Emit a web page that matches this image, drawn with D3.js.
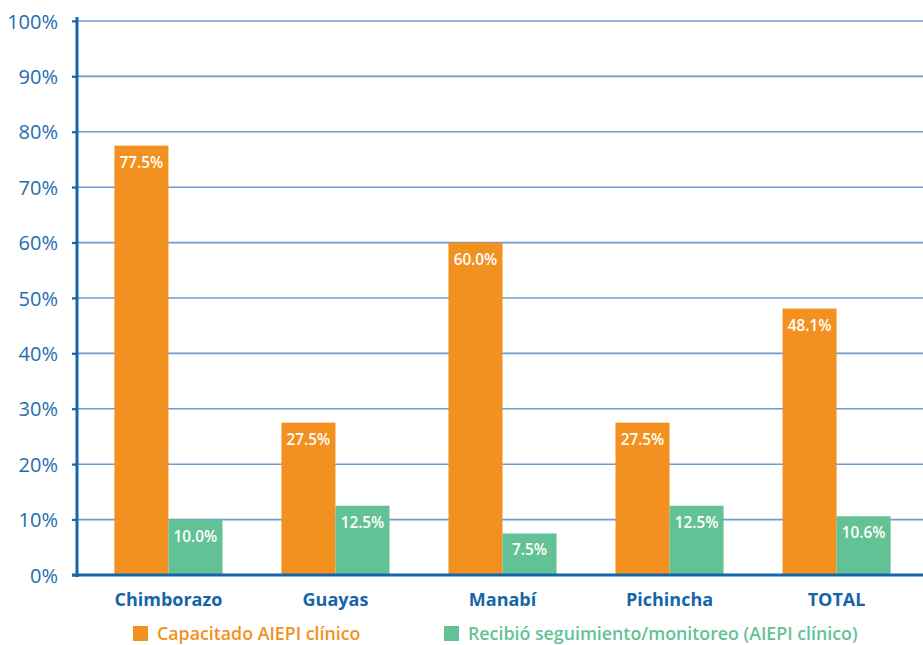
<!DOCTYPE html>
<html><head><meta charset="utf-8">
<script src="https://cdn.jsdelivr.net/npm/d3@7"></script>
<style>body{margin:0;background:#fff}svg{display:block}</style>
</head><body>
<svg id="c" width="923" height="645"></svg>
<script>
const categories = ["Chimborazo","Guayas","Manabí","Pichincha","TOTAL"];
const seriesNames = ["Capacitado AIEPI clínico","Recibió seguimiento/monitoreo (AIEPI clínico)"];
const capacitado = [77.5,27.5,60.0,27.5,48.1];
const seguimiento = [10.0,12.5,7.5,12.5,10.6];
const yTicks = [0,10,20,30,40,50,60,70,80,90,100];
const colors = ["#F39120","#63C295"];
const textBlue = "#1F6DB1";
const font = "'Open Sans', sans-serif";

const svg = d3.select("#c");
const y = d3.scaleLinear().domain([0,100]).range([575,21]);
const x = d3.scaleBand().domain(categories).range([85,920]).paddingInner(0.353).paddingOuter(0.176);
const xs = d3.scaleBand().domain([0,1]).range([0,x.bandwidth()]);

// gridlines
svg.append("g").selectAll("line").data(yTicks.filter(d=>d>0)).join("line")
  .attr("x1",72).attr("x2",923).attr("y1",d=>y(d)).attr("y2",d=>y(d))
  .attr("stroke","#6E9BD2").attr("stroke-width",1.6);

// bars
const series = [capacitado, seguimiento];
const g = svg.append("g");
series.forEach((vals,si)=>{
  g.selectAll(null).data(categories).join("rect")
    .attr("x",c=>x(c)+xs(si)).attr("width",xs.bandwidth())
    .attr("y",(c,i)=>y(vals[i])).attr("height",(c,i)=>y(0)-y(vals[i]))
    .attr("fill",colors[si]);
  g.selectAll(null).data(categories).join("text")
    .attr("x",c=>x(c)+xs(si)+xs.bandwidth()/2).attr("y",(c,i)=>y(vals[i])+22)
    .attr("text-anchor","middle").attr("fill","#fff").attr("font-family",font)
    .attr("font-weight",600).attr("font-size",15.3)
    .text((c,i)=>vals[i].toFixed(1)+"%");
});

// y axis
const ya = svg.append("g").attr("transform","translate(77,0)")
  .call(d3.axisLeft(y).tickValues(yTicks).tickFormat(d=>d+"%").tickSize(5).tickPadding(14));
ya.select(".domain").attr("stroke","#1565A8").attr("stroke-width",3).attr("d","M0,17V577");
ya.selectAll(".tick line").attr("stroke","#1565A8").attr("stroke-width",2);
ya.selectAll(".tick text").attr("fill",textBlue).attr("font-family",font).attr("font-size",20).attr("dy","0.35em");

// baseline
svg.append("line").attr("x1",72).attr("x2",923).attr("y1",y(0)).attr("y2",y(0))
  .attr("stroke","#1565A8").attr("stroke-width",3);

// x labels
svg.append("g").selectAll("text").data(categories).join("text")
  .attr("x",c=>x(c)+x.bandwidth()/2).attr("y",606).attr("text-anchor","middle")
  .attr("fill","#1565A8").attr("font-family",font).attr("font-weight",700).attr("font-size",18)
  .text(d=>d);

// legend
const legX = [133,444];
const lg = svg.append("g");
seriesNames.forEach((n,i)=>{
  lg.append("rect").attr("x",legX[i]).attr("y",626).attr("width",15).attr("height",15).attr("fill",colors[i]);
  lg.append("text").attr("x",legX[i]+24).attr("y",640).attr("fill",colors[i])
    .attr("font-family",font).attr("font-weight",600).attr("font-size",17.8).text(n);
});
</script>
</body></html>
